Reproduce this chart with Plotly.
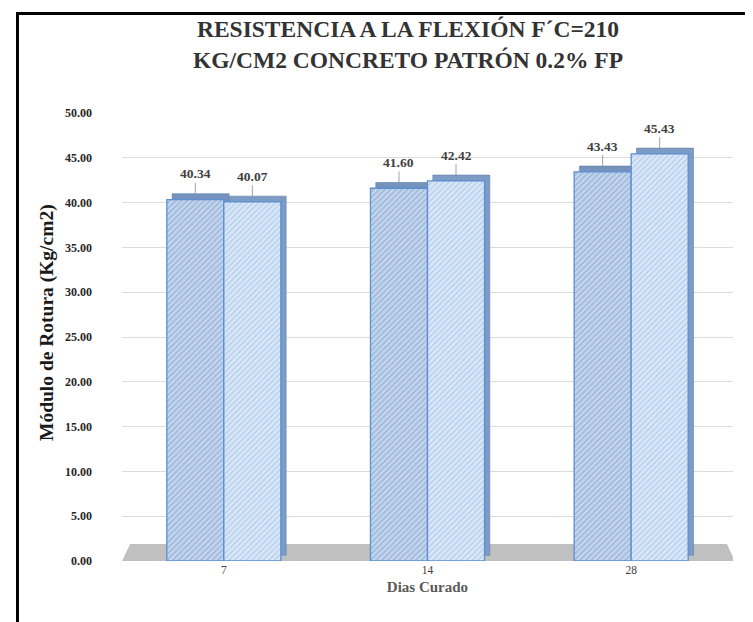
import plotly.graph_objects as go

# ---- data ----
categories = ["7", "14", "28"]
patron = [40.34, 41.60, 43.43]
fibra = [40.07, 42.42, 45.43]
y_ticks = [0, 5, 10, 15, 20, 25, 30, 35, 40, 45, 50]
y_ticklabels = [f"{v:.2f}" for v in y_ticks]

title_text = "RESISTENCIA A LA FLEXIÓN F´C=210<br>KG/CM2 CONCRETO PATRÓN 0.2% FP"
x_title = "Dias Curado"
y_title = "Módulo de Rotura (Kg/cm2)"

# ---- layout constants ----
W, H = 753, 622
ML, MR, MT, MB = 114, 28, 105, 69
SERIF = "Liberation Serif"
BW = 0.28      # bar width (category units)
DX = 0.026     # depth offset x
DY = 0.65      # depth offset y

xpos = list(range(len(categories)))

fig = go.Figure()

series = [
    (patron, -BW, "#c3d6ee", "#6f8fbd", "#7593bd"),
    (fibra, 0.0, "#dae8f8", "#8fb0dc", "#7d9bc4"),
]
for vals, off, bg, fg, shade in series:
    # depth (side + top face)
    fig.add_trace(go.Bar(
        x=xpos, y=vals, base=[DY] * len(vals), offset=off + DX, width=BW,
        marker=dict(color=shade, line=dict(color="#5f80ab", width=0.6)),
        hoverinfo="skip", showlegend=False,
    ))
    # front face
    fig.add_trace(go.Bar(
        x=xpos, y=vals, offset=off, width=BW,
        marker=dict(color=bg,
                    line=dict(color="#5b8fd2", width=1.3),
                    pattern=dict(shape="/", fgcolor=fg, bgcolor=bg,
                                 size=4, solidity=0.35)),
        showlegend=False,
    ))

pw = W - ML - MR
ph = H - MT - MB
def px_x(p):
    return (p - ML) / pw
def px_y(p):
    return 1 - (p - MT) / ph

annotations = []
for vals, off, *_ in series:
    for xi, v in zip(xpos, vals):
        annotations.append(dict(
            x=xi + off + BW / 2, y=v + DY, xref="x", yref="y",
            text=f"{v:.2f}", showarrow=True, arrowhead=0,
            arrowwidth=0.8, arrowcolor="#8c8c8c", ax=0, ay=-20,
            font=dict(family=SERIF, size=13.5, color="#404040", weight="bold"),
        ))
# y axis title (placed as rotated text)
annotations.append(dict(
    x=px_x(39), y=px_y(315), xref="paper", yref="paper",
    text=y_title, textangle=-90, showarrow=False,
    xanchor="center", yanchor="middle",
    font=dict(family=SERIF, size=19.5, color="#1a1a1a", weight="bold"),
))

shapes = [
    # gray floor
    dict(type="path", xref="x", yref="y", layer="below",
         path="M -0.5,0 L 2.51,0 L 2.47,1.9 L -0.46,1.9 Z",
         fillcolor="#c0c0c0", line=dict(width=0)),
    # frame left
    dict(type="line", xref="paper", yref="paper",
         x0=px_x(9.5), x1=px_x(9.5), y0=px_y(4), y1=px_y(H + 5),
         line=dict(color="black", width=3)),
    # frame top
    dict(type="line", xref="paper", yref="paper",
         x0=px_x(8), x1=px_x(W + 5), y0=px_y(5.5), y1=px_y(5.5),
         line=dict(color="black", width=3)),
]

fig.update_layout(
    width=W, height=H,
    margin=dict(l=ML, r=MR, t=MT, b=MB),
    paper_bgcolor="white", plot_bgcolor="white",
    barmode="overlay",
    title=dict(text=title_text, x=400 / W, xanchor="center",
               y=1 - 29 / H, yanchor="middle",
               font=dict(family=SERIF, size=23.5, color="#333333", weight="bold")),
    xaxis=dict(tickmode="array", tickvals=xpos, ticktext=categories,
               range=[-0.5, 2.5], showgrid=False, zeroline=False,
               showline=False, ticks="",
               tickfont=dict(family=SERIF, size=11.5, color="#404040"),
               title=dict(text=x_title, standoff=6,
                          font=dict(family=SERIF, size=15, color="#595959",
                                    weight="bold"))),
    yaxis=dict(tickmode="array", tickvals=y_ticks, ticktext=y_ticklabels,
               range=[0, 50], showgrid=True, gridcolor="#dcdcdc", gridwidth=1,
               zeroline=False, showline=False, ticks="",
               ticklabelstandoff=29,
               tickfont=dict(family=SERIF, size=12, color="#262626", weight="bold")),
    shapes=shapes,
    annotations=annotations,
)

fig.write_html("out.html")
